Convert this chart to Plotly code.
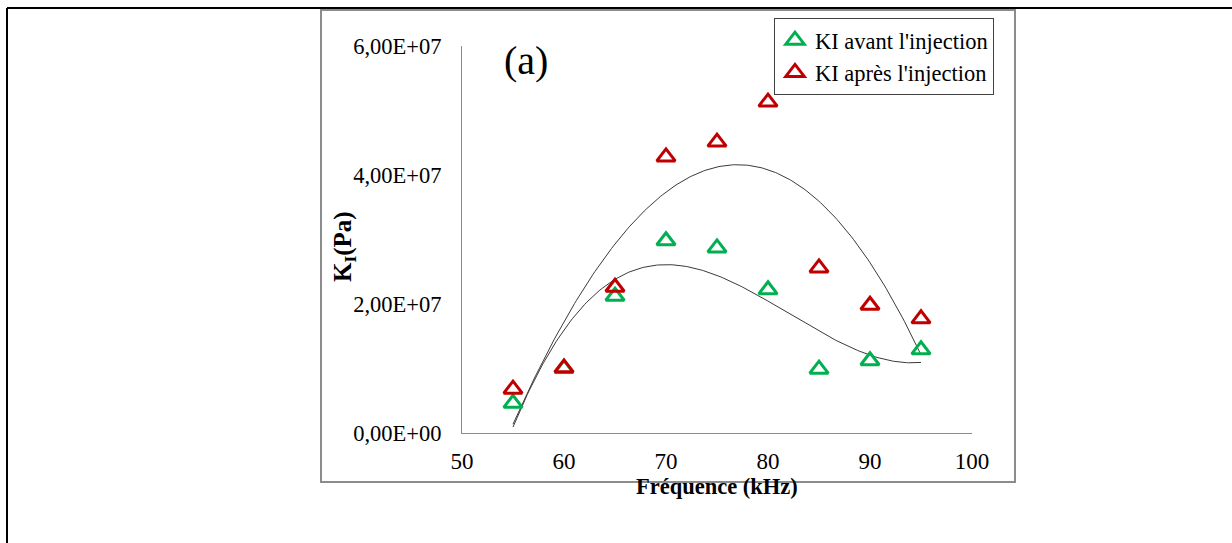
import numpy as np
import plotly.graph_objects as go

freq = [55, 60, 65, 70, 75, 80, 85, 90, 95]
ki_avant = [4.6e6, 1.0e7, 2.12e7, 2.98e7, 2.87e7, 2.22e7, 9.9e6, 1.12e7, 1.29e7]
ki_apres = [6.8e6, 1.01e7, 2.26e7, 4.28e7, 4.51e7, 5.13e7, 2.56e7, 1.98e7, 1.77e7]
x_ticks = [50, 60, 70, 80, 90, 100]
y_ticks = [0, 2e7, 4e7, 6e7]
y_tick_labels = ["0,00E+00", "2,00E+07", "4,00E+07", "6,00E+07"]

# polynomial trendlines (order 3), as produced by the spreadsheet
xf = np.linspace(min(freq), max(freq), 200)
fit_avant = np.polyval(np.polyfit(freq, ki_avant, 3), xf)
fit_apres = np.polyval(np.polyfit(freq, ki_apres, 3), xf)

FONT = "Liberation Serif"
W, H = 1232, 543
L, R, T, B = 462, 972, 46, 433


def px(x):
    return (x - L) / (R - L)


def py(y):
    return (B - y) / (B - T)


fig = go.Figure()
fig.add_trace(go.Scatter(x=xf, y=fit_avant, mode="lines", line=dict(color="#3a3a3a", width=1),
                         showlegend=False, hoverinfo="skip"))
fig.add_trace(go.Scatter(x=xf, y=fit_apres, mode="lines", line=dict(color="#3a3a3a", width=1),
                         showlegend=False, hoverinfo="skip"))
fig.add_trace(go.Scatter(x=freq, y=ki_avant, mode="markers", name="KI avant l'injection",
                         marker=dict(symbol="triangle-up-open", size=16, color="#00B050",
                                     line=dict(width=3, color="#00B050"))))
fig.add_trace(go.Scatter(x=freq, y=ki_apres, mode="markers", name="KI après l'injection",
                         marker=dict(symbol="triangle-up-open", size=16, color="#C00000",
                                     line=dict(width=3, color="#C00000"))))

fig.update_layout(
    width=W, height=H,
    margin=dict(l=L, r=W - R, t=T, b=H - B),
    paper_bgcolor="white", plot_bgcolor="white",
    font=dict(family=FONT, size=22, color="black"),
    showlegend=True,
    legend=dict(x=px(774), y=py(18), xanchor="left", yanchor="top",
                bordercolor="#404040", borderwidth=1, bgcolor="white",
                font=dict(family=FONT, size=22.5), itemwidth=30),
    xaxis=dict(range=[50, 100], tickvals=x_ticks, showgrid=False, zeroline=False,
               showline=True, linecolor="#8c8c8c", linewidth=1, ticks="",
               ticklabelstandoff=7, tickfont=dict(family=FONT, size=23)),
    yaxis=dict(range=[0, 6e7], tickvals=y_ticks, ticktext=y_tick_labels, showgrid=False,
               zeroline=False, showline=True, linecolor="#8c8c8c", linewidth=1, ticks="",
               ticklabelstandoff=15, tickfont=dict(family=FONT, size=22.5)),
    annotations=[
        dict(text="<b>Fréquence (kHz)</b>", xref="paper", yref="paper", x=px(717), y=py(486),
             xanchor="center", yanchor="middle", showarrow=False, font=dict(family=FONT, size=22.5)),
        dict(text="<b>K<sub>I</sub>(Pa)</b>", xref="paper", yref="paper", x=px(344), y=py(247),
             xanchor="center", yanchor="middle", showarrow=False, textangle=-90,
             font=dict(family=FONT, size=25)),
        dict(text="(a)", xref="paper", yref="paper", x=px(526), y=py(60),
             xanchor="center", yanchor="middle", showarrow=False, font=dict(family=FONT, size=40)),
    ],
    shapes=[
        dict(type="rect", xref="paper", yref="paper", x0=px(321), x1=px(1015), y0=py(10), y1=py(482),
             line=dict(color="#8c8c8c", width=2), layer="below"),
        dict(type="line", xref="paper", yref="paper", x0=px(7), x1=px(1232), y0=py(8), y1=py(8),
             line=dict(color="black", width=2)),
        dict(type="line", xref="paper", yref="paper", x0=px(7), x1=px(7), y0=py(8), y1=py(543),
             line=dict(color="black", width=2)),
    ],
)

fig.write_html("out.html", config={"displayModeBar": False},
               post_script="document.body.style.margin='0px';")
